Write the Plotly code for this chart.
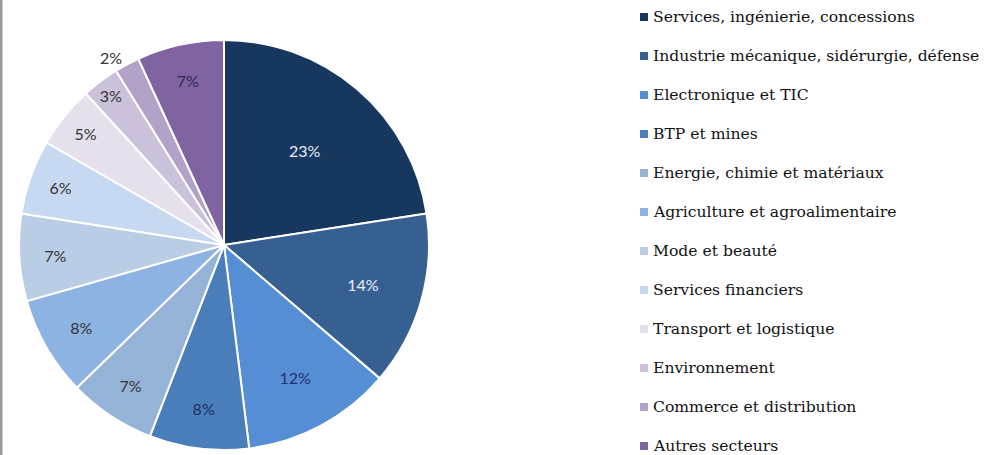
import plotly.graph_objects as go

labels = ["Services, ingénierie, concessions", "Industrie mécanique, sidérurgie, défense",
          "Electronique et TIC", "BTP et mines", "Energie, chimie et matériaux",
          "Agriculture et agroalimentaire", "Mode et beauté", "Services financiers",
          "Transport et logistique", "Environnement", "Commerce et distribution",
          "Autres secteurs"]
values = [23, 14, 12, 8, 7, 8, 7, 6, 5, 3, 2, 7]
colors = ["#17375e", "#376092", "#558ed5", "#4a7ebb", "#95b3d7", "#8db3e2",
          "#b9cde5", "#c6d9f1", "#e6e0ec", "#ccc1da", "#b3a2c7", "#8064a2"]
text_colors = ["#e8eef8", "#e8eef8", "#1f2f6f", "#1f2f5f", "#333333", "#333333",
               "#333333", "#333333", "#333333", "#333333", "#333333", "#2e2a4f"]
positions = ["inside"] * 10 + ["outside", "inside"]

W, H = 990, 455
SERIF = "DejaVu Serif, serif"

fig = go.Figure()
fig.add_trace(go.Pie(
    labels=labels, values=values, sort=False, direction="clockwise", rotation=0,
    text=[f"{v}%" for v in values], textinfo="text", textposition=positions,
    insidetextorientation="horizontal",
    marker=dict(colors=colors, line=dict(color="white", width=2)),
    textfont=dict(family="Lato", size=16, color=text_colors),
    outsidetextfont=dict(family="Lato", size=16, color="#333333"),
    domain=dict(x=[19 / W, 429 / W], y=[1 - 450 / H, 1 - 40 / H]),
    showlegend=False, hoverinfo="label+percent",
))

shapes = [dict(type="rect", xref="paper", yref="paper", x0=0, x1=2.5 / W, y0=0, y1=1,
               fillcolor="#9a9a9a", line=dict(width=0))]
annotations = []
for i, (lab, col) in enumerate(zip(labels, colors)):
    yc = 17 + 39 * i
    shapes.append(dict(type="rect", xref="paper", yref="paper",
                       x0=640 / W, x1=648 / W, y0=1 - (yc + 4) / H, y1=1 - (yc - 4) / H,
                       fillcolor=col, line=dict(width=0)))
    annotations.append(dict(xref="paper", yref="paper", x=651 / W, y=1 - yc / H,
                            xanchor="left", yanchor="middle", showarrow=False, text=lab,
                            font=dict(family=SERIF, size=15.6, color="#111111")))

fig.update_layout(width=W, height=H, margin=dict(l=0, r=0, t=0, b=0),
                  paper_bgcolor="white", plot_bgcolor="white",
                  shapes=shapes, annotations=annotations)
fig.write_html("out.html", config={"displayModeBar": False},
               post_script="document.body.style.margin='0';document.body.style.overflow='hidden';")
